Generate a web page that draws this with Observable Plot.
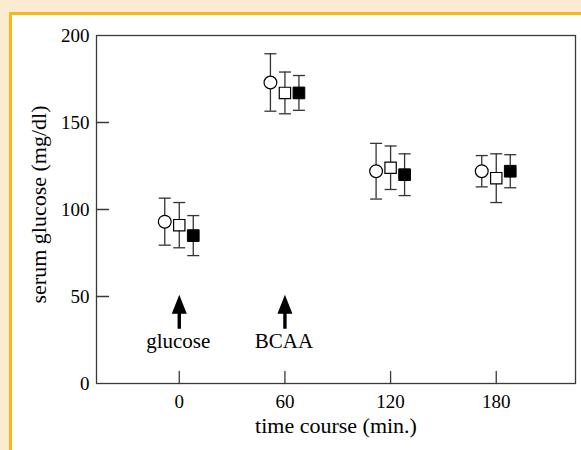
<!DOCTYPE html>
<html>
<head>
<meta charset="utf-8">
<script src="https://cdn.jsdelivr.net/npm/d3@7"></script>
<script src="https://cdn.jsdelivr.net/npm/@observablehq/plot@0.6"></script>
<style>
  html, body { margin: 0; padding: 0; }
  body { background: #fbecd1; width: 581px; height: 450px; overflow: hidden; position: relative; }
  #panel { position: absolute; left: 9px; top: 12px; width: 620px; height: 480px; background: #fff; border: 3px solid #f4b81c; }
  #chart { position: absolute; left: 0; top: 0; }
  #chart svg { background: transparent; }
</style>
</head>
<body>
<div id="panel"></div>
<div id="chart"></div>
<script>
// Sampling times (min) after the glucose load
const times = [0, 60, 120, 180];

// Serum glucose (mg/dl), mean and SD for the three groups
const circleMean = [93, 173, 122, 122];
const circleSd   = [13.5, 16.5, 16, 9];
const openMean   = [91, 167, 124, 118];
const openSd     = [13, 12, 12.5, 14];
const filledMean = [85, 167, 120, 122];
const filledSd   = [11.5, 10, 12, 9.5];

// Axis ticks
const xTicks = [0, 60, 120, 180];
const yTicks = [0, 50, 100, 150, 200];
const yInnerTicks = [50, 100, 150];

// Dosing annotations
const doseTimes = [0, 60];
const doseNames = ["glucose", "BCAA"];
const arrowBase = 31.5;
const doseLabelY = 24.4;

const rowsOf = (means, sds) => times.map((t, i) => ({time: t, mean: means[i], sd: sds[i]}));
const circleRows = rowsOf(circleMean, circleSd);
const openRows = rowsOf(openMean, openSd);
const filledRows = rowsOf(filledMean, filledSd);
const doses = doseTimes.map((t, i) => ({time: t, name: doseNames[i]}));

// Short straight stroke used for inward tick marks
const tickShape = {draw(c, l) { c.moveTo(0, 0); c.lineTo(0, -l); }};
// Horizontal cap at the end of an error bar
const capSymbol = {draw(c) { c.moveTo(-6, 0); c.lineTo(6, 0); }};
// Solid block arrow pointing up
const blockArrow = {
  draw(c, l) {
    const h = 19, hw = 7.5, sw = 1.7;
    c.moveTo(-sw, 0);
    c.lineTo(-sw, -(l - h));
    c.lineTo(-hw, -(l - h));
    c.lineTo(0, -l);
    c.lineTo(hw, -(l - h));
    c.lineTo(sw, -(l - h));
    c.lineTo(sw, 0);
    c.closePath();
  }
};

const barColor = "#333";
function errorBars(rows, dx) {
  return [
    Plot.ruleX(rows, {x: "time", y1: d => d.mean - d.sd, y2: d => d.mean + d.sd, dx, stroke: barColor, strokeWidth: 1.3}),
    Plot.dot(rows, {x: "time", y: d => d.mean + d.sd, symbol: capSymbol, dx, stroke: barColor, strokeWidth: 1.3}),
    Plot.dot(rows, {x: "time", y: d => d.mean - d.sd, symbol: capSymbol, dx, stroke: barColor, strokeWidth: 1.3})
  ];
}

const chart = Plot.plot({
  width: 581,
  height: 450,
  marginLeft: 96,
  marginRight: 6,
  marginTop: 35,
  marginBottom: 67,
  style: {fontFamily: "'Liberation Serif', 'Times New Roman', serif", fontSize: "19px", color: "black", background: "transparent"},
  x: {domain: [-47, 225]},
  y: {domain: [0, 200]},
  marks: [
    Plot.frame({stroke: "#3a3a3a", strokeWidth: 1.3}),
    Plot.vector(yInnerTicks, {y: d => d, frameAnchor: "left", length: 12, rotate: 90, anchor: "start", shape: tickShape, stroke: "#3a3a3a", strokeWidth: 1.3}),
    Plot.vector(xTicks, {x: d => d, frameAnchor: "bottom", length: 12, anchor: "start", shape: tickShape, stroke: "#3a3a3a", strokeWidth: 1.3}),
    Plot.axisY({ticks: yTicks, tickSize: 0, tickPadding: 7, label: null, fontSize: 19}),
    Plot.axisX({ticks: xTicks, tickSize: 0, tickPadding: 11, label: null, fontSize: 19}),
    Plot.text(["serum glucose (mg/dl)"], {frameAnchor: "left", textAnchor: "middle", dx: -58, dy: -5, rotate: -90, fontSize: 22}),
    Plot.text(["time course (min.)"], {frameAnchor: "bottom", dy: 49, fontSize: 22}),

    ...errorBars(circleRows, -14.5),
    ...errorBars(openRows, 0),
    ...errorBars(filledRows, 14),

    Plot.dot(circleRows, {x: "time", y: "mean", dx: -14.5, r: 6.4, fill: "white", stroke: "black", strokeWidth: 1.2}),
    Plot.dot(openRows, {x: "time", y: "mean", symbol: "square", r: 6.4, fill: "white", stroke: "black", strokeWidth: 1.2}),
    Plot.dot(filledRows, {x: "time", y: "mean", dx: 14, symbol: "square", r: 6.6, fill: "black", stroke: "black", strokeWidth: 1}),

    Plot.vector(doses, {x: "time", y: () => arrowBase, length: 34, anchor: "start", shape: blockArrow, fill: "black", stroke: "none"}),
    Plot.text(doses, {x: "time", y: () => doseLabelY, text: "name", dx: -1, fontSize: 21})
  ]
});
document.getElementById("chart").append(chart);
</script>
</body>
</html>
